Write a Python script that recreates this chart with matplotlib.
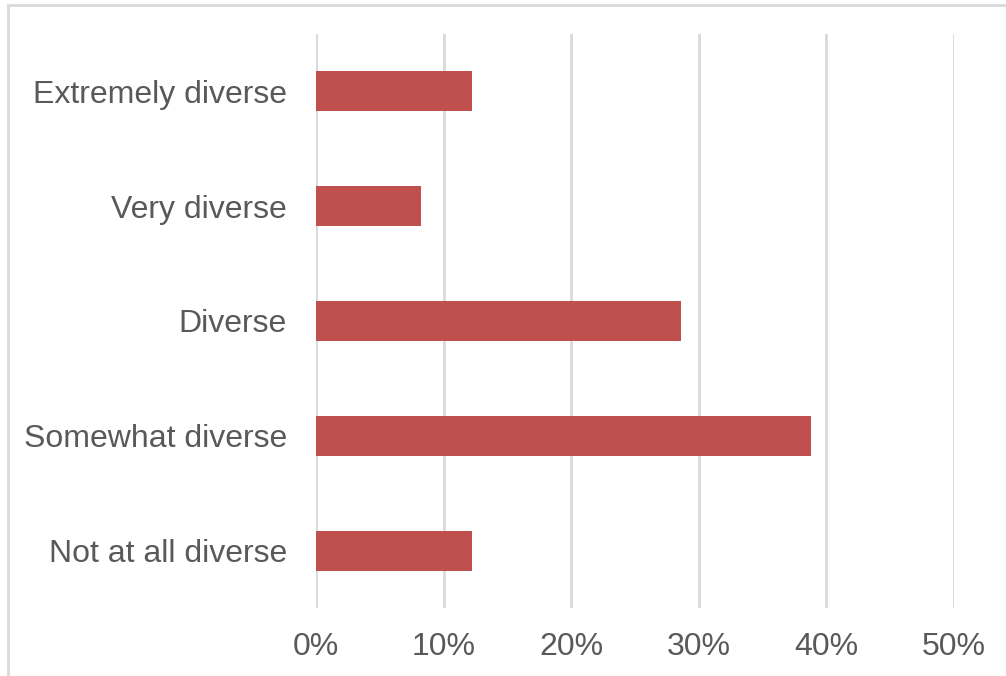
import matplotlib
matplotlib.use("Agg")
import matplotlib.pyplot as plt
import matplotlib.patches as patches
from matplotlib.ticker import PercentFormatter

plt.rcParams['font.family'] = ['Liberation Sans', 'DejaVu Sans']

# Data
categories = ['Not at all diverse', 'Somewhat diverse', 'Diverse', 'Very diverse', 'Extremely diverse']
shares = [0.122, 0.388, 0.286, 0.082, 0.122]
x_ticks = [0, 0.1, 0.2, 0.3, 0.4, 0.5]

fig = plt.figure(figsize=(10.06, 6.76), dpi=100)
ax = fig.add_axes([0.3141, 0.1006, 0.6342, 0.8491])

# Outer light gray frame
fig.patches.append(patches.Rectangle((8 / 1006, -0.01), 1.02, 1 - 5 / 676 + 0.01,
                                     transform=fig.transFigure, fill=False,
                                     edgecolor='#D9D9D9', linewidth=2))

ax.barh(categories, shares, height=0.35, color='#C0504D', zorder=3)

ax.set_xlim(0, 0.5)
ax.set_ylim(-0.5, len(categories) - 0.5)
ax.set_xticks(x_ticks)
ax.xaxis.set_major_formatter(PercentFormatter(1.0, decimals=0))
ax.grid(axis='x', color='#D9D9D9', linewidth=2, zorder=0)

for s in ax.spines.values():
    s.set_visible(False)
ax.tick_params(length=0, labelsize=23, labelcolor='#595959')
ax.tick_params(axis='x', pad=17)
ax.tick_params(axis='y', pad=21)

fig.savefig('out.png', dpi=100)
